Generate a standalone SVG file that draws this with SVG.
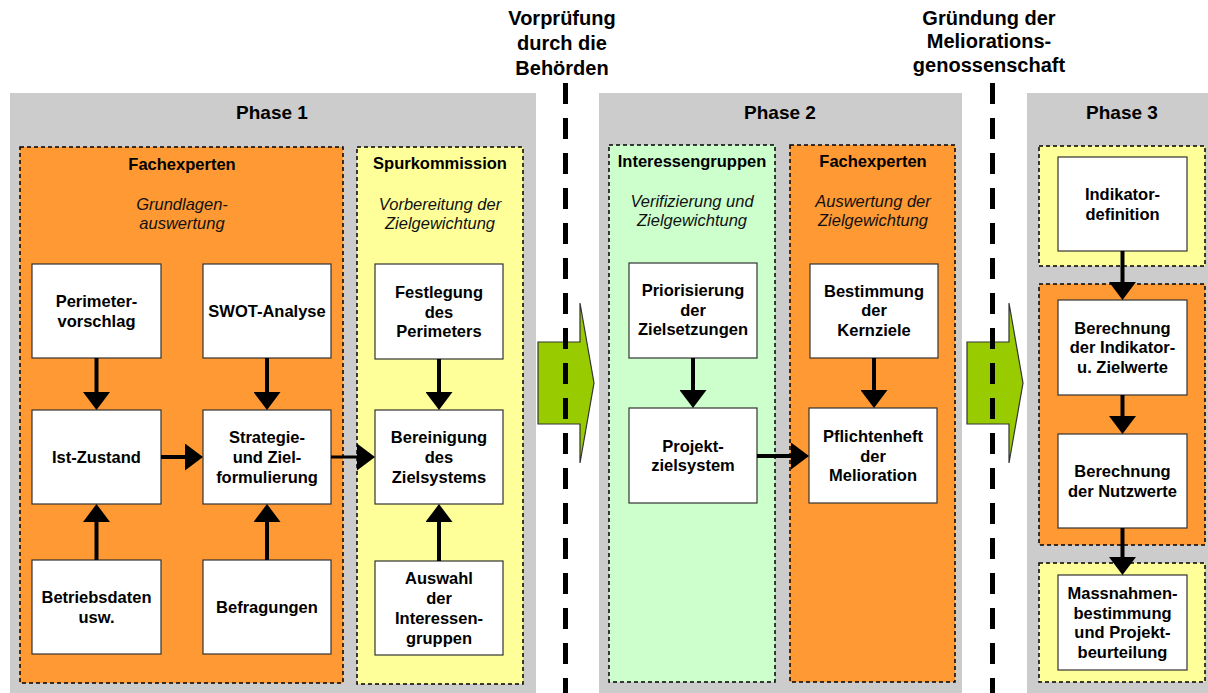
<svg xmlns="http://www.w3.org/2000/svg" width="1208" height="693" viewBox="0 0 1208 693">
<style>
.panel{fill:#CCCCCC}
.cont{stroke:#000;stroke-width:1.5;stroke-dasharray:4 3}
.orange{fill:#FF9933}
.yellow{fill:#FFFF99}
.green{fill:#CCFFCC}
.box{fill:#FFFFFF;stroke:#333;stroke-width:1.2}
text{font-family:"Liberation Sans",Arial,sans-serif;fill:#000;text-anchor:middle}
.t{font-size:16.5px;font-weight:bold}
.h{font-size:19px;font-weight:bold}
.top{font-size:20px;font-weight:bold}
.i{font-size:16.5px;font-style:italic;fill:#111}
.conn line{stroke:#000;stroke-width:4}
.sep{stroke:#000;stroke-width:5;stroke-dasharray:21 14}
.garrow{fill:#99CC00;stroke:#333;stroke-width:1.2}
</style>
<defs>
<marker id="ah" markerUnits="userSpaceOnUse" markerWidth="18" markerHeight="27" viewBox="0 0 18 27" refX="8" refY="13.5" orient="auto">
<path d="M0,0 L18,13.5 L0,27 Z" fill="#000"/>
</marker>
</defs>

<g id="phase1">
<rect class="panel" x="10" y="93" width="526" height="600"/>
<text class="h" x="272" y="119">Phase 1</text>
</g>
<g id="phase2">
<rect class="panel" x="599" y="93" width="363" height="600"/>
<text class="h" x="780" y="119">Phase 2</text>
</g>
<g id="phase3">
<rect class="panel" x="1027" y="93" width="181" height="600"/>
<text class="h" x="1122" y="119">Phase 3</text>
</g>

<g id="fachexperten1">
<rect class="cont orange" x="20" y="147" width="323" height="536"/>
<text class="t" x="182" y="170">Fachexperten</text>
<text class="i" x="182" y="210">Grundlagen-</text>
<text class="i" x="182" y="229">auswertung</text>
</g>
<g id="spurkommission">
<rect class="cont yellow" x="357" y="147" width="166" height="537"/>
<text class="t" x="440" y="169">Spurkommission</text>
<text class="i" x="440" y="210">Vorbereitung der</text>
<text class="i" x="440" y="229">Zielgewichtung</text>
</g>
<g id="interessengruppen">
<rect class="cont green" x="609" y="145" width="166" height="537"/>
<text class="t" x="692" y="167">Interessengruppen</text>
<text class="i" x="692" y="207">Verifizierung und</text>
<text class="i" x="692" y="226">Zielgewichtung</text>
</g>
<g id="fachexperten2">
<rect class="cont orange" x="790" y="145" width="165" height="537"/>
<text class="t" x="873" y="167">Fachexperten</text>
<text class="i" x="873" y="207">Auswertung der</text>
<text class="i" x="873" y="226">Zielgewichtung</text>
</g>
<g id="p3yellow1">
<rect class="cont yellow" x="1039" y="146" width="166" height="120"/>
</g>
<g id="p3orange">
<rect class="cont orange" x="1039" y="284" width="166" height="261"/>
</g>
<g id="p3yellow2">
<rect class="cont yellow" x="1039" y="563" width="166" height="119"/>
</g>

<g id="gate1">
<polygon class="garrow" points="538,342 580,342 580,303 594,383 580,463 580,424 538,424"/>
<line class="sep" x1="565.5" y1="83" x2="565.5" y2="693"/>
<text class="top" x="562" y="25">Vorprüfung</text>
<text class="top" x="562" y="50">durch die</text>
<text class="top" x="562" y="75">Behörden</text>
</g>
<g id="gate2">
<polygon class="garrow" points="967,342 1009,342 1009,303 1023,383 1009,463 1009,424 967,424"/>
<line class="sep" x1="992.5" y1="83" x2="992.5" y2="693"/>
<text class="top" x="989" y="25">Gründung der</text>
<text class="top" x="989" y="48">Meliorations-</text>
<text class="top" x="989" y="72">genossenschaft</text>
</g>

<g id="perimetervorschlag">
<rect class="box" x="32" y="264" width="129" height="94"/>
<text class="t" x="96.5" y="307">Perimeter-</text>
<text class="t" x="96.5" y="327">vorschlag</text>
</g>
<g id="swot">
<rect class="box" x="203" y="264" width="128" height="94"/>
<text class="t" x="267" y="317">SWOT-Analyse</text>
</g>
<g id="istzustand">
<rect class="box" x="32" y="410" width="129" height="94"/>
<text class="t" x="96.5" y="463">Ist-Zustand</text>
</g>
<g id="strategie">
<rect class="box" x="203" y="410" width="128" height="94"/>
<text class="t" x="267" y="443">Strategie-</text>
<text class="t" x="267" y="463">und Ziel-</text>
<text class="t" x="267" y="483">formulierung</text>
</g>
<g id="betriebsdaten">
<rect class="box" x="32" y="560" width="129" height="94"/>
<text class="t" x="96.5" y="603">Betriebsdaten</text>
<text class="t" x="96.5" y="623">usw.</text>
</g>
<g id="befragungen">
<rect class="box" x="203" y="560" width="128" height="94"/>
<text class="t" x="267" y="613">Befragungen</text>
</g>
<g id="festlegung">
<rect class="box" x="375" y="264" width="128" height="95"/>
<text class="t" x="439" y="298">Festlegung</text>
<text class="t" x="439" y="318">des</text>
<text class="t" x="439" y="337">Perimeters</text>
</g>
<g id="bereinigung">
<rect class="box" x="375" y="410" width="128" height="94"/>
<text class="t" x="439" y="443">Bereinigung</text>
<text class="t" x="439" y="463">des</text>
<text class="t" x="439" y="483">Zielsystems</text>
</g>
<g id="auswahl">
<rect class="box" x="375" y="561" width="128" height="94"/>
<text class="t" x="439" y="584">Auswahl</text>
<text class="t" x="439" y="604">der</text>
<text class="t" x="439" y="624">Interessen-</text>
<text class="t" x="439" y="644">gruppen</text>
</g>
<g id="priorisierung">
<rect class="box" x="629" y="263" width="128" height="95"/>
<text class="t" x="693" y="296">Priorisierung</text>
<text class="t" x="693" y="316">der</text>
<text class="t" x="693" y="335">Zielsetzungen</text>
</g>
<g id="bestimmung">
<rect class="box" x="810" y="264" width="128" height="94"/>
<text class="t" x="874" y="297">Bestimmung</text>
<text class="t" x="874" y="316">der</text>
<text class="t" x="874" y="336">Kernziele</text>
</g>
<g id="projektzielsystem">
<rect class="box" x="629" y="408" width="128" height="95"/>
<text class="t" x="693" y="452">Projekt-</text>
<text class="t" x="693" y="471">zielsystem</text>
</g>
<g id="pflichtenheft">
<rect class="box" x="809" y="408" width="128" height="95"/>
<text class="t" x="873" y="442">Pflichtenheft</text>
<text class="t" x="873" y="462">der</text>
<text class="t" x="873" y="481">Melioration</text>
</g>
<g id="indikatordefinition">
<rect class="box" x="1058" y="157" width="129" height="94"/>
<text class="t" x="1122.5" y="200">Indikator-</text>
<text class="t" x="1122.5" y="220">definition</text>
</g>
<g id="berechnung1">
<rect class="box" x="1058" y="300" width="129" height="95"/>
<text class="t" x="1122.5" y="334">Berechnung</text>
<text class="t" x="1122.5" y="353">der Indikator-</text>
<text class="t" x="1122.5" y="373">u. Zielwerte</text>
</g>
<g id="berechnung2">
<rect class="box" x="1058" y="434" width="129" height="94"/>
<text class="t" x="1122.5" y="477">Berechnung</text>
<text class="t" x="1122.5" y="497">der Nutzwerte</text>
</g>
<g id="massnahmen">
<rect class="box" x="1058" y="575" width="129" height="95"/>
<text class="t" x="1122.5" y="599">Massnahmen-</text>
<text class="t" x="1122.5" y="619">bestimmung</text>
<text class="t" x="1122.5" y="638">und Projekt-</text>
<text class="t" x="1122.5" y="658">beurteilung</text>
</g>

<g id="connectors" class="conn">
<line x1="96.5" y1="358" x2="96.5" y2="400" marker-end="url(#ah)"/>
<line x1="267" y1="358" x2="267" y2="400" marker-end="url(#ah)"/>
<line x1="96.5" y1="560" x2="96.5" y2="514" marker-end="url(#ah)"/>
<line x1="267" y1="560" x2="267" y2="514" marker-end="url(#ah)"/>
<line x1="161" y1="457" x2="193" y2="457" marker-end="url(#ah)"/>
<line x1="331" y1="457" x2="365" y2="457" style="stroke-width:3" marker-end="url(#ah)"/>
<line x1="439" y1="359" x2="439" y2="400" marker-end="url(#ah)"/>
<line x1="439" y1="561" x2="439" y2="514" marker-end="url(#ah)"/>
<line x1="693" y1="358" x2="693" y2="398" marker-end="url(#ah)"/>
<line x1="874" y1="358" x2="874" y2="398" marker-end="url(#ah)"/>
<line x1="757" y1="456" x2="799" y2="456" marker-end="url(#ah)"/>
<line x1="1122.5" y1="251" x2="1122.5" y2="290" marker-end="url(#ah)"/>
<line x1="1122.5" y1="395" x2="1122.5" y2="424" marker-end="url(#ah)"/>
<line x1="1122.5" y1="528" x2="1122.5" y2="565" marker-end="url(#ah)"/>
</g>
</svg>
